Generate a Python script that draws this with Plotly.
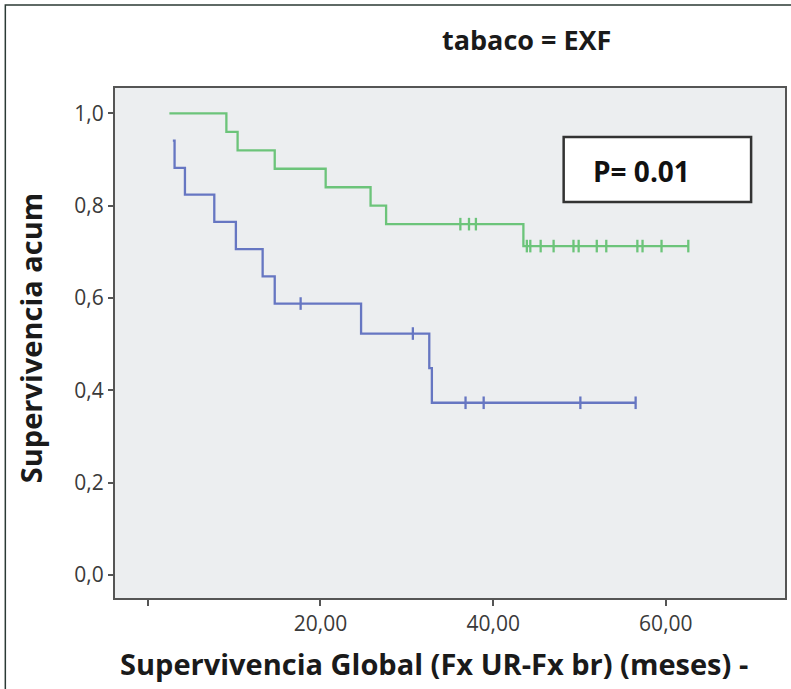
import plotly.graph_objects as go

# Kaplan-Meier curves (step vertices)
green_t = [2.5, 9.1, 10.4, 14.7, 20.6, 25.8, 27.6, 43.5, 62.6]
green_s = [1.0, 0.96, 0.92, 0.88, 0.84, 0.80, 0.76, 0.7125, 0.7125]
green_cens_t = [36.2, 37.2, 38.0, 43.9, 44.3, 45.5, 47.0, 49.3, 49.9, 52.0, 53.1, 56.7, 57.3, 59.5, 62.6]
green_cens_s = [0.76, 0.76, 0.76] + [0.7125] * 12

blue_t = [2.9, 3.1, 4.3, 7.7, 10.2, 13.3, 14.7, 24.7, 32.6, 32.9, 56.5]
blue_s = [0.941, 0.882, 0.824, 0.765, 0.706, 0.647, 0.588, 0.523, 0.448, 0.373, 0.373]
blue_cens_t = [17.7, 30.7, 36.8, 38.9, 50.1, 56.5]
blue_cens_s = [0.588, 0.523, 0.373, 0.373, 0.373, 0.373]

y_ticks = [0.0, 0.2, 0.4, 0.6, 0.8, 1.0]
y_ticktext = ["0,0", "0,2", "0,4", "0,6", "0,8", "1,0"]
x_ticks = [0, 20, 40, 60]
x_ticktext = ["", "20,00", "40,00", "60,00"]

GREEN = "#6cc47a"
BLUE = "#6676c2"
FONT = "Open Sans, Liberation Sans, Arial"

# plot area in pixels
L, R, T, B = 115, 787, 88, 598
PW, PH = R - L, B - T

def px(x):
    return (x - L) / PW

def py(y):
    return (B - y) / PH

fig = go.Figure()
fig.add_trace(go.Scatter(x=green_t, y=green_s, mode="lines", line=dict(color=GREEN, width=2.3, shape="hv"),
                         showlegend=False, hoverinfo="skip"))
fig.add_trace(go.Scatter(x=blue_t, y=blue_s, mode="lines", line=dict(color=BLUE, width=2.3, shape="hv"),
                         showlegend=False, hoverinfo="skip"))
fig.add_trace(go.Scatter(x=green_cens_t, y=green_cens_s, mode="markers",
                         marker=dict(symbol="line-ns-open", size=9, color=GREEN, line=dict(color=GREEN, width=2.3)),
                         showlegend=False, hoverinfo="skip"))
fig.add_trace(go.Scatter(x=blue_cens_t, y=blue_cens_s, mode="markers",
                         marker=dict(symbol="line-ns-open", size=9, color=BLUE, line=dict(color=BLUE, width=2.3)),
                         showlegend=False, hoverinfo="skip"))

fig.update_layout(
    width=791, height=689,
    margin=dict(l=L, r=791 - R, t=T, b=689 - B),
    paper_bgcolor="white",
    plot_bgcolor="#eceef0",
    font=dict(family=FONT, color="#333333"),
    xaxis=dict(range=[-3.8, 73.8], tickvals=x_ticks, ticktext=x_ticktext, ticks="outside", ticklen=6,
               tickwidth=2, tickcolor="#555555", showgrid=False, zeroline=False, showline=True,
               linecolor="#555555", linewidth=2, mirror=True, tickfont=dict(size=21, color="#3a3a3a")),
    yaxis=dict(range=[-0.05, 1.055], tickvals=y_ticks, ticktext=y_ticktext, ticks="outside", ticklen=5,
               tickwidth=2, tickcolor="#555555", showgrid=False, zeroline=False, showline=True,
               linecolor="#555555", linewidth=2, mirror=True, tickfont=dict(size=21, color="#3a3a3a")),
    annotations=[
        dict(text="<b>tabaco = EXF</b>", xref="paper", yref="paper", x=px(528), y=py(40),
             xanchor="center", yanchor="middle", showarrow=False, font=dict(size=27, color="#1a1a1a", family=FONT)),
        dict(text="<b>Supervivencia acum</b>", xref="paper", yref="paper", x=px(30), y=py(338),
             xanchor="center", yanchor="middle", textangle=-90, showarrow=False,
             font=dict(size=29, color="#1a1a1a", family=FONT)),
        dict(text="<b>Supervivencia Global (Fx UR-Fx br) (meses) -</b>", xref="paper", yref="paper",
             x=px(435), y=py(663), xanchor="center", yanchor="middle", showarrow=False,
             font=dict(size=29, color="#1a1a1a", family=FONT)),
        dict(text="<b>P= 0.01</b>", xref="paper", yref="paper", x=px(643), y=py(171),
             xanchor="center", yanchor="middle", showarrow=False,
             font=dict(size=28, color="#111111", family=FONT)),
    ],
    shapes=[
        dict(type="rect", xref="paper", yref="paper", x0=px(565), x1=px(753),
             y0=py(202), y1=py(137), line=dict(color="#333333", width=2.5), fillcolor="white"),
        dict(type="rect", xref="paper", yref="paper", x0=px(5), x1=px(800),
             y0=py(700), y1=py(5), line=dict(color="#2b3a35", width=1.5),
             fillcolor="rgba(0,0,0,0)", layer="below"),
    ],
)

fig.write_html("out.html", config={"displayModeBar": False},
               post_script="document.body.style.margin='0';document.body.style.overflow='hidden';")
